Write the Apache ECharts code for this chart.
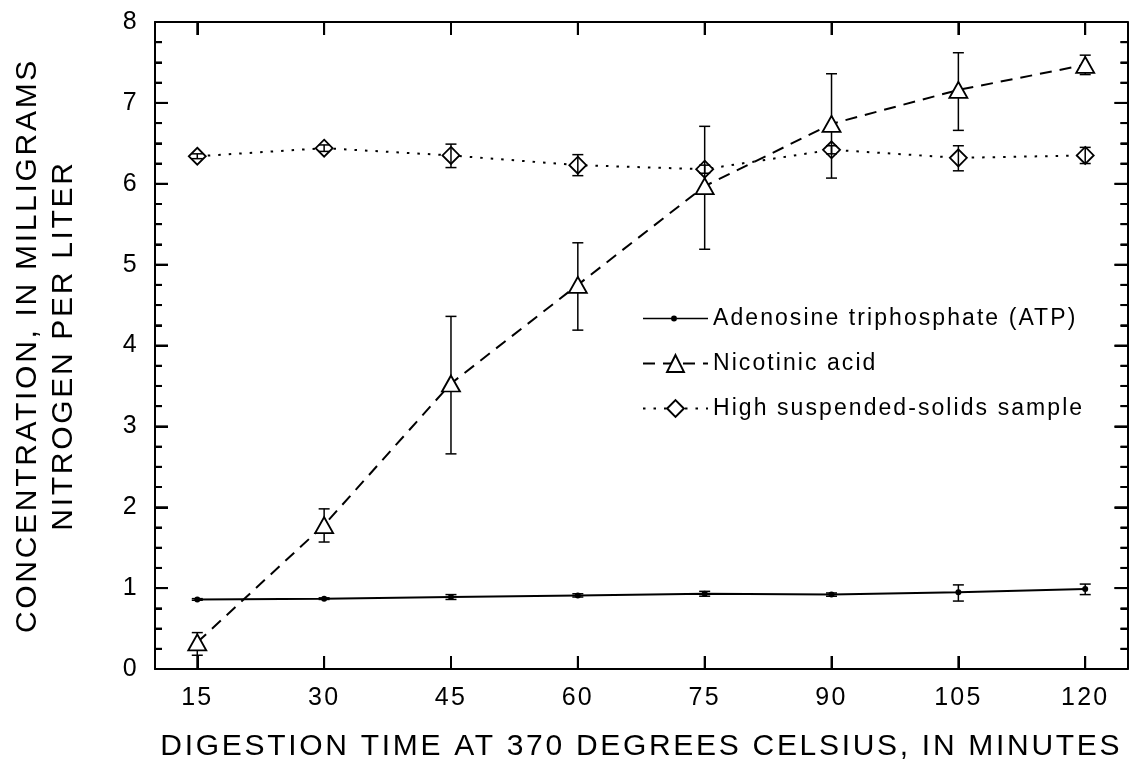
<!DOCTYPE html>
<html><head><meta charset="utf-8">
<script src="https://cdn.jsdelivr.net/npm/echarts@6/dist/echarts.min.js"></script>
<style>
html,body{margin:0;padding:0;background:#fff;}
#chart{width:1129px;height:763px;}
</style></head><body><div id="chart"></div>
<script>
const minutes = [15, 30, 45, 60, 75, 90, 105, 120];
const xTicks = [15, 30, 45, 60, 75, 90, 105, 120];
const yTicks = [0, 1, 2, 3, 4, 5, 6, 7, 8];
const yMinorTicks = [0.25, 0.5, 0.75, 1.25, 1.5, 1.75, 2.25, 2.5, 2.75, 3.25, 3.5, 3.75,
                     4.25, 4.5, 4.75, 5.25, 5.5, 5.75, 6.25, 6.5, 6.75, 7.25, 7.5, 7.75];
const atp = [0.86, 0.87, 0.89, 0.91, 0.93, 0.92, 0.95, 0.99];
const atpLow = [0.85, 0.86, 0.86, 0.89, 0.90, 0.90, 0.84, 0.92];
const atpHigh = [0.87, 0.88, 0.92, 0.93, 0.96, 0.94, 1.04, 1.05];
const nic = [0.33, 1.78, 3.53, 4.75, 5.97, 6.74, 7.16, 7.47];
const nicLow = [0.17, 1.57, 2.66, 4.19, 5.19, 6.07, 6.66, 7.35];
const nicHigh = [0.45, 1.98, 4.36, 5.27, 6.71, 7.36, 7.62, 7.59];
const hss = [6.34, 6.44, 6.35, 6.23, 6.18, 6.42, 6.32, 6.35];
const hssLow = [6.31, 6.40, 6.20, 6.10, 6.13, 6.37, 6.16, 6.25];
const hssHigh = [6.37, 6.48, 6.49, 6.36, 6.23, 6.47, 6.47, 6.45];
const names = ['Adenosine triphosphate (ATP)', 'Nicotinic acid', 'High suspended-solids sample'];
const X_MIN = 10, X_MAX = 125, Y_MIN = 0, Y_MAX = 8;

// wider letter spacing, as in the reference typography
(function () {
  const P = CanvasRenderingContext2D.prototype;
  if (!('letterSpacing' in P)) return;
  const orig = P.fillText;
  P.fillText = function (t, x, y, mw) {
    const m = /(\d+(?:\.\d+)?)px/.exec(this.font);
    const prev = this.letterSpacing;
    if (m) this.letterSpacing = (parseFloat(m[1]) * 0.09).toFixed(2) + 'px';
    const r = (mw === undefined) ? orig.call(this, t, x, y) : orig.call(this, t, x, y, mw);
    this.letterSpacing = prev;
    return r;
  };
})();

const FONT = 'Liberation Sans, Arial, Helvetica, sans-serif';
const chart = echarts.init(document.getElementById('chart'), null, {renderer: 'canvas'});

function pairs(vals) { return minutes.map((m, i) => [m, vals[i]]); }
function errData(lo, hi) { return minutes.map((m, i) => [m, lo[i], hi[i]]); }
function errorItem(params, api) {
  const x = api.value(0);
  const lo = api.coord([x, api.value(1)]);
  const hi = api.coord([x, api.value(2)]);
  const w = 5.5;
  const style = {stroke: '#000', lineWidth: 1.5, fill: null};
  return {type: 'group', children: [
    {type: 'line', shape: {x1: lo[0], y1: lo[1], x2: hi[0], y2: hi[1]}, style: style},
    {type: 'line', shape: {x1: lo[0] - w, y1: lo[1], x2: lo[0] + w, y2: lo[1]}, style: style},
    {type: 'line', shape: {x1: hi[0] - w, y1: hi[1], x2: hi[0] + w, y2: hi[1]}, style: style}
  ]};
}
// inside tick marks on all four sides, placed through the axes' own scales
const tickData = xTicks.map(v => [0, v, 13])
  .concat(yTicks.map(v => [1, v, 13]))
  .concat(yMinorTicks.map(v => [1, v, 7]));
function tickItem(params, api) {
  const kind = api.value(0), v = api.value(1), len = api.value(2);
  const st = {stroke: '#000', lineWidth: 2, fill: null};
  if (kind === 0) {
    const b = api.coord([v, Y_MIN]), t = api.coord([v, Y_MAX]);
    return {type: 'group', children: [
      {type: 'line', shape: {x1: b[0], y1: b[1], x2: b[0], y2: b[1] - len}, style: st},
      {type: 'line', shape: {x1: t[0], y1: t[1], x2: t[0], y2: t[1] + len}, style: st}
    ]};
  }
  const l = api.coord([X_MIN, v]), r = api.coord([X_MAX, v]);
  return {type: 'group', children: [
    {type: 'line', shape: {x1: l[0], y1: l[1], x2: l[0] + len, y2: l[1]}, style: st},
    {type: 'line', shape: {x1: r[0], y1: r[1], x2: r[0] - len, y2: r[1]}, style: st}
  ]};
}

const axisLine = {show: true, onZero: false, lineStyle: {color: '#000', width: 2}};
const xTick = {show: true, inside: true, length: 13, lineStyle: {color: '#000', width: 2}, customValues: xTicks};
const yTick = {show: true, inside: true, length: 13, lineStyle: {color: '#000', width: 2}};
const yMinor = {show: true, splitNumber: 4, length: 7, lineStyle: {color: '#000', width: 2}};
const nameStyle = {fontFamily: FONT, fontSize: 30, color: '#000', lineHeight: 36};

chart.setOption({
  animation: false,
  backgroundColor: '#fff',
  grid: {left: 155, right: 1.5, top: 22, bottom: 94, outerBoundsMode: 'none'},
  legend: {
    orient: 'vertical', left: 642, top: 307, padding: 0, itemWidth: 65, itemHeight: 21, itemGap: 22,
    selectedMode: false,
    textStyle: {fontFamily: FONT, fontSize: 23, color: '#000', lineHeight: 22},
    data: [
      {name: names[0], icon: 'path://M0,9.25L28,9.25L28,10.75L0,10.75ZM34,9.25L65,9.25L65,10.75L34,10.75ZM28,10a3,3 0 1,0 6,0a3,3 0 1,0 -6,0Z',
       itemStyle: {color: '#000', borderColor: '#000', borderWidth: 0}},
      names[1], names[2]
    ]
  },
  xAxis: [
    {type: 'value', position: 'bottom', min: X_MIN, max: X_MAX,
     name: 'DIGESTION TIME AT 370 DEGREES CELSIUS, IN MINUTES', nameLocation: 'middle', nameGap: 60,
     nameTextStyle: nameStyle,
     axisLine: axisLine, axisTick: xTick, splitLine: {show: false},
     axisLabel: {show: true, customValues: xTicks, fontFamily: FONT, fontSize: 25, color: '#000', margin: 17}},
    {type: 'value', position: 'top', min: X_MIN, max: X_MAX,
     axisLine: axisLine, axisTick: xTick, splitLine: {show: false}, axisLabel: {show: false}}
  ],
  yAxis: [
    {type: 'value', position: 'left', min: Y_MIN, max: Y_MAX, interval: 1,
     name: 'CONCENTRATION, IN MILLIGRAMS\nNITROGEN PER LITER', nameLocation: 'middle', nameGap: 73, nameRotate: 90,
     nameTextStyle: nameStyle,
     axisLine: axisLine, axisTick: yTick, minorTick: yMinor, splitLine: {show: false},
     axisLabel: {fontFamily: FONT, fontSize: 25, color: '#000', margin: 16}},
    {type: 'value', position: 'right', min: Y_MIN, max: Y_MAX, interval: 1,
     axisLine: axisLine, axisTick: yTick, minorTick: yMinor, splitLine: {show: false}, axisLabel: {show: false}}
  ],
  series: [
    {name: 'ticks', type: 'custom', z: 1, silent: true, renderItem: tickItem, data: tickData,
     encode: {x: 1, y: 1}},
    {name: names[2], type: 'line', z: 2, data: pairs(hss), symbol: 'diamond', symbolSize: [17, 17],
     itemStyle: {color: '#fff', borderColor: '#000', borderWidth: 1.8},
     lineStyle: {color: '#000', width: 2, type: [2.5, 8]}},
    {name: 'hss-err', type: 'custom', z: 3, renderItem: errorItem, data: errData(hssLow, hssHigh),
     encode: {x: 0, y: [1, 2]}},
    {name: 'nic-err', type: 'custom', z: 4, renderItem: errorItem, data: errData(nicLow, nicHigh),
     encode: {x: 0, y: [1, 2]}},
    {name: names[1], type: 'line', z: 5, data: pairs(nic), symbol: 'triangle', symbolSize: [18, 16],
     itemStyle: {color: '#fff', borderColor: '#000', borderWidth: 1.8},
     lineStyle: {color: '#000', width: 2, type: [12, 8]}},
    {name: 'atp-err', type: 'custom', z: 6, renderItem: errorItem, data: errData(atpLow, atpHigh),
     encode: {x: 0, y: [1, 2]}},
    {name: names[0], type: 'line', z: 7, data: pairs(atp), symbol: 'circle', symbolSize: 6,
     itemStyle: {color: '#000'},
     lineStyle: {color: '#000', width: 2, type: 'solid'}}
  ]
});
</script></body></html>
